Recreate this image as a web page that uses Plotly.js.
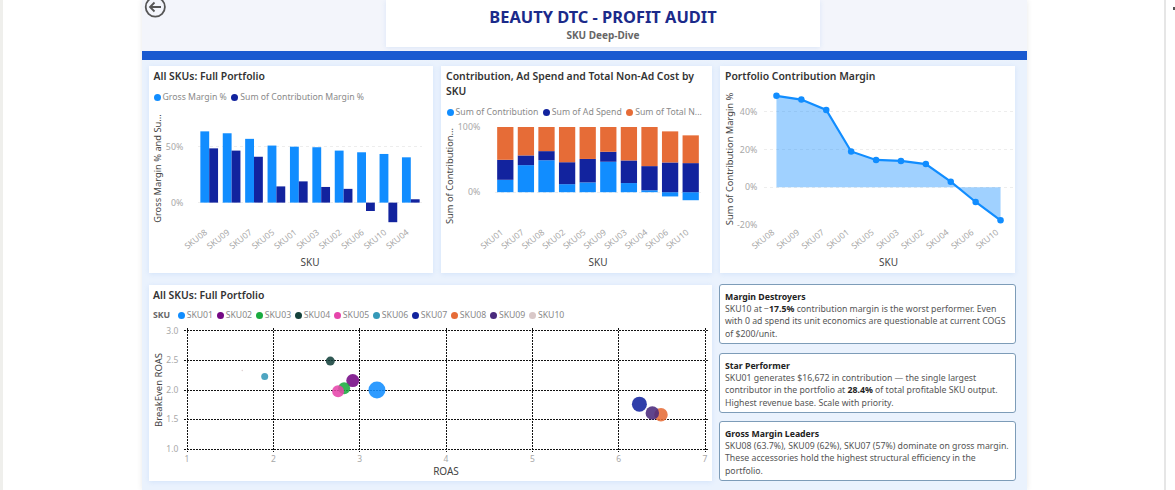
<!DOCTYPE html>
<html><head><meta charset="utf-8">
<script src="https://cdn.plot.ly/plotly-3.0.1.min.js"></script>
<style>
html,body{margin:0;padding:0;background:#fff;width:1175px;height:490px;overflow:hidden;font-family:"Noto Sans",sans-serif}
.abs{position:absolute}
#dash{left:142px;top:0;width:885px;height:490px;background:linear-gradient(#f3f5fb 0,#f3f5fb 51px,#eaf2fd 62px,#eaf2fd 100%);box-shadow:0 0 6px rgba(0,0,0,.09)}
#bar{left:142px;top:51px;width:885px;height:9px;background:#1a5ad0}
.card{background:#fff;box-shadow:0 1px 5px rgba(120,170,240,.2)}
.t{position:absolute;font-size:10.4px;font-weight:600;color:#333;white-space:nowrap;line-height:15px}
.lg{position:absolute;display:flex;align-items:center;font-size:8.7px;color:#8a8a8a;white-space:nowrap;height:12px}
.lg i{display:inline-block;width:7px;height:7px;border-radius:50%;margin-right:2px}
.lg span{margin-right:4.5px}
#l4 span{margin-right:3.6px}
.note{position:absolute;box-sizing:border-box;background:#fff;border:1px solid #7d9cb8;border-radius:3px;padding:6px 5px 0 5px;font-size:8.72px;line-height:12.2px;color:#555;white-space:nowrap}
.note b{color:#222;font-weight:700}
</style></head><body>
<div class="abs" style="left:0;top:0;width:3px;height:490px;background:#efefec"></div>
<div class="abs" style="left:1164px;top:0;width:2px;height:490px;background:#e6e6e6"></div>
<div class="abs" style="left:1173px;top:7px;width:2px;height:3px;background:#555"></div>
<div id="dash" class="abs"></div>
<div id="bar" class="abs"></div>
<svg class="abs" style="left:144px;top:-4px" width="24" height="24" viewBox="0 0 24 24" fill="none" stroke="#555" stroke-width="1.8"><circle cx="11.3" cy="11" r="9.6"/><path d="M17 11H6M10.5 6.5L6 11l4.5 4.5"/></svg>
<div class="abs card" style="left:386px;top:0;width:434px;height:47px;text-align:center">
  <div id="h1" class="abs" style="left:0;right:0;top:6px;font-size:16.4px;font-weight:700;color:#1b2a8a;line-height:22px"></div>
  <div id="h2" class="abs" style="left:0;right:0;top:28px;font-size:10px;font-weight:700;color:#666;line-height:14px"></div>
</div>
<div class="abs card" style="left:149px;top:66px;width:284px;height:207px"></div>
<div class="abs card" style="left:441px;top:66px;width:271px;height:207px"></div>
<div class="abs card" style="left:720px;top:66px;width:295px;height:207px"></div>
<div class="abs card" style="left:149px;top:285px;width:563px;height:196px"></div>
<div id="c1" class="abs"></div><div id="c2" class="abs"></div><div id="c3" class="abs"></div><div id="c4" class="abs"></div>
<div class="t" style="left:153.5px;top:68.5px">All SKUs: Full Portfolio</div>
<div class="t" style="left:446px;top:68.5px">Contribution, Ad Spend and Total Non-Ad Cost by<br>SKU</div>
<div class="t" style="left:725px;top:68.5px">Portfolio Contribution Margin</div>
<div class="t" style="left:153px;top:287.5px">All SKUs: Full Portfolio</div>
<div id="l1" class="lg" style="left:153.5px;top:91px"></div>
<div id="l2" class="lg" style="left:446.5px;top:106px"></div>
<div id="l4" class="lg" style="left:153px;top:309px"></div>
<div class="note" style="left:719px;top:284px;width:297px;height:60px"><b>Margin Destroyers</b><br>SKU10 at &minus;<b>17.5%</b> contribution margin is the worst performer. Even<br>with 0 ad spend its unit economics are questionable at current COGS<br>of $200/unit.</div>
<div class="note" style="left:719px;top:353px;width:297px;height:60px"><b>Star Performer</b><br>SKU01 generates $16,672 in contribution — the single largest<br>contributor in the portfolio at <b>28.4%</b> of total profitable SKU output.<br>Highest revenue base. Scale with priority.</div>
<div class="note" style="left:719px;top:421px;width:297px;height:60px"><b>Gross Margin Leaders</b><br>SKU08 (63.7%), SKU09 (62%), SKU07 (57%) dominate on gross margin.<br>These accessories hold the highest structural efficiency in the<br>portfolio.</div>
<script>
var reportTitle="BEAUTY DTC - PROFIT AUDIT", reportSub="SKU Deep-Dive";
// Chart 1
var skuA=["SKU08","SKU09","SKU07","SKU05","SKU01","SKU03","SKU02","SKU06","SKU10","SKU04"];
var grossMargin=[63.7,62,57,51,50,49.5,46.5,45,43.5,40.5];
var contribMarginA=[48.5,46.5,41,14.5,19,14,12.3,-7.5,-17.5,3];
// Chart 2
var skuB=["SKU01","SKU07","SKU08","SKU02","SKU05","SKU09","SKU03","SKU04","SKU06","SKU10"];
var shareContribution=[19,41.5,49,12.3,15,46.7,14,3,-6.5,-12.3];
var shareAdSpend=[30.7,14.9,14,33.7,36,15.3,34.7,37,45.6,44.6];
var shareNonAd=[50.3,43.6,37,54,49,38,51.3,60,47.7,42.6];
// Chart 3
var skuC=["SKU08","SKU09","SKU07","SKU01","SKU05","SKU03","SKU02","SKU04","SKU06","SKU10"];
var contribMarginC=[48.5,46.5,41,19,14.5,14,12.3,3,-7.8,-17.5];
// Chart 4
var skuD=["SKU01","SKU02","SKU03","SKU04","SKU05","SKU06","SKU07","SKU08","SKU09","SKU10"];
var roas=[3.2,2.92,2.82,2.66,2.75,1.9,6.24,6.49,6.39,1.64];
var breakEven=[2.0,2.16,2.03,2.49,1.98,2.23,1.76,1.58,1.61,2.33];
var bubble=[17,13,12,9,12,7,15,13.5,13.5,1.5];
var skuColors=["#118DFF","#750985","#1AAB40","#15423C","#E645AB","#3599B8","#12239E","#E66C37","#4A2A7C","#D9C8C8"];
var BLUE="#118DFF",NAVY="#12239E",ORANGE="#E66C37";

document.getElementById("h1").textContent=reportTitle;
document.getElementById("h2").textContent=reportSub;
function legend(id,names,cols,head){
  var el=document.getElementById(id),h=head?'<b style="color:#666;margin-right:7.5px">'+head+'</b>':'';
  names.forEach(function(n,i){h+='<i style="background:'+cols[i]+'"></i><span>'+n+'</span>';});
  el.innerHTML=h;
}
legend("l1",["Gross Margin %","Sum of Contribution Margin %"],[BLUE,NAVY]);
legend("l2",["Sum of Contribution","Sum of Ad Spend","Sum of Total N..."],[BLUE,NAVY,ORANGE]);
legend("l4",skuD,skuColors,"SKU");

var FONT='"Noto Sans",sans-serif',TICK="#a8a8a8",AX="#444";
function place(id,card,plot){ // card:[x,y,w,h], plot:[x0,y0,x1,y1] page pixels
  var e=document.getElementById(id);
  e.style.left=card[0]+"px";e.style.top=card[1]+"px";
  return {width:card[2],height:card[3],autosize:false,
    margin:{l:plot[0]-card[0],r:card[0]+card[2]-plot[2],t:plot[1]-card[1],b:card[1]+card[3]-plot[3],pad:0},
    paper_bgcolor:"rgba(0,0,0,0)",plot_bgcolor:"rgba(0,0,0,0)",showlegend:false,font:{family:FONT,size:9,color:TICK}};
}
function catX(title,standoff){return {type:"category",range:[-0.5,9.5],title:{text:title,font:{size:10,color:AX},standoff:standoff},tickangle:-38,tickfont:{size:8.5,color:TICK},ticklabelshift:-4,ticklabelstandoff:0,showgrid:false,zeroline:false,showline:false,ticks:"",automargin:false};}
function valY(title,range,vals,texts,standoff,len){return {title:{text:title,font:{size:9.3,color:AX},standoff:standoff},range:range,tickvals:vals,ticktext:texts,tickfont:{size:8.8,color:TICK},ticks:"outside",ticklen:len,tickcolor:"rgba(0,0,0,0)",showgrid:true,gridcolor:"#ededed",griddash:"dot",zeroline:false,showline:false,automargin:false};}
var cfg={staticPlot:true,displayModeBar:false};

// Chart 1
var L1=place("c1",[149,66,284,207],[197.7,111.6,421.7,224.7]);
L1.barmode="group";L1.bargap=0.21;L1.bargroupgap=0;
L1.xaxis=catX("SKU",8);
L1.yaxis=valY("Gross Margin % and Su...",[-20,81],[0,50],["0%","50%"],2.5,12);
Plotly.newPlot("c1",[
 {type:"bar",name:"Gross Margin %",x:skuA,y:grossMargin,marker:{color:BLUE}},
 {type:"bar",name:"Sum of Contribution Margin %",x:skuA,y:contribMarginA,marker:{color:NAVY}}
],L1,cfg);

// Chart 2
var L2=place("c2",[441,66,271,207],[494.5,127.3,701.2,225]);
L2.barmode="relative";L2.bargap=0.21;
L2.xaxis=catX("SKU",8);
L2.yaxis=valY("Sum of Contribution...",[-50.3,100],[0,100],["0%","100%"],2.5,12);
Plotly.newPlot("c2",[
 {type:"bar",name:"Sum of Contribution",x:skuB,y:shareContribution,marker:{color:BLUE}},
 {type:"bar",name:"Sum of Ad Spend",x:skuB,y:shareAdSpend,marker:{color:NAVY}},
 {type:"bar",name:"Sum of Total Non-Ad Cost",x:skuB,y:shareNonAd,marker:{color:ORANGE}}
],L2,cfg);

// Chart 3
var L3=place("c3",[720,66,295,207],[763.5,92.6,1012.8,225]);
L3.xaxis=catX("SKU",8);
L3.yaxis=valY("Sum of Contribution Margin %",[-20,50],[-20,0,20,40],["-20%","0%","20%","40%"],1.5,4);
Plotly.newPlot("c3",[
 {type:"scatter",mode:"lines+markers",name:"Sum of Contribution Margin %",x:skuC,y:contribMarginC,fill:"tozeroy",fillcolor:"rgba(17,141,255,0.4)",line:{color:BLUE,width:2.2},marker:{color:BLUE,size:6.5},cliponaxis:false}
],L3,cfg);

// Chart 4
var DOTS="1.5px,1.5px";
var L4=place("c4",[149,285,563,196],[183.7,328,708,452.3]);
L4.xaxis={title:{text:"ROAS",font:{size:10,color:AX},standoff:3},range:[0.9653,7.0347],tickvals:[1,2,3,4,5,6,7],tickfont:{size:8.5,color:TICK},ticks:"",ticklabelstandoff:0,showgrid:true,gridcolor:"#111",griddash:DOTS,gridwidth:1,zeroline:false,showline:false,automargin:false};
L4.yaxis={title:{text:"BreakEven ROAS",font:{size:9.5,color:AX},standoff:1},range:[0.9493,3.0507],tickvals:[1,1.5,2,2.5,3],ticktext:["1.0","1.5","2.0","2.5","3.0"],tickfont:{size:8.5,color:TICK},ticks:"outside",ticklen:3,tickcolor:"rgba(0,0,0,0)",showgrid:true,gridcolor:"#111",griddash:DOTS,gridwidth:1,zeroline:false,showline:false,automargin:false};
Plotly.newPlot("c4",skuD.map(function(s,i){return {type:"scatter",mode:"markers",name:s,x:[roas[i]],y:[breakEven[i]],marker:{color:skuColors[i],size:bubble[i],opacity:0.88,line:{width:0}},cliponaxis:false};}),L4,cfg);
</script>
</body></html>
